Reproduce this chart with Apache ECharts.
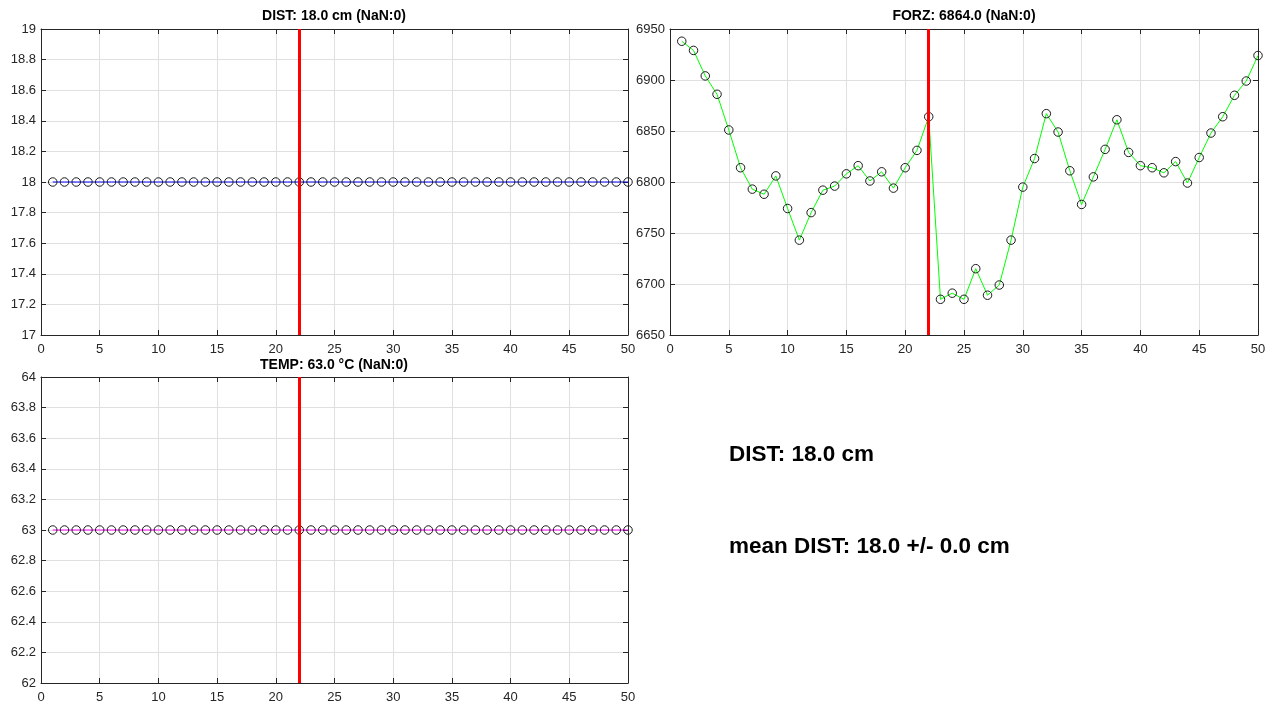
<!DOCTYPE html>
<html>
<head>
<meta charset="utf-8">
<title>DIST / FORZ / TEMP</title>
<script src="https://cdn.jsdelivr.net/npm/echarts@6/dist/echarts.min.js"></script>
<style>
  html, body { margin: 0; padding: 0; background: #ffffff; }
  #chart { width: 1272px; height: 707px; }
</style>
</head>
<body>
<div id="chart"></div>
<script>
// Sample index (x) for the last 50 acquisitions
const sampleIndex = [1,2,3,4,5,6,7,8,9,10,11,12,13,14,15,16,17,18,19,20,21,22,23,24,25,
  26,27,28,29,30,31,32,33,34,35,36,37,38,39,40,41,42,43,44,45,46,47,48,49,50];

// Distance readings (cm)
const distValues = [18,18,18,18,18,18,18,18,18,18,18,18,18,18,18,18,18,18,18,18,18,18,18,18,18,
  18,18,18,18,18,18,18,18,18,18,18,18,18,18,18,18,18,18,18,18,18,18,18,18,18];

// Force readings
const forzValues = [6938,6929,6904,6886,6851,6814,6793,6788,6806,6774,6743,6770,6792,6796,6808,
  6816,6801,6810,6794,6814,6831,6864,6685,6691,6685,6715,6689,6699,6743,6795,6823,6867,6849,
  6811,6778,6805,6832,6861,6829,6816,6814,6809,6820,6799,6824,6848,6864,6885,6899,6924];

// Temperature readings (°C)
const tempValues = [63,63,63,63,63,63,63,63,63,63,63,63,63,63,63,63,63,63,63,63,63,63,63,63,63,
  63,63,63,63,63,63,63,63,63,63,63,63,63,63,63,63,63,63,63,63,63,63,63,63,63];

// Currently selected sample (red cursor)
const currentIndex = 22;

// Axis ranges and tick steps
const xRange = { min: 0, max: 50, step: 5 };
const distRange = { min: 17, max: 19, step: 0.2 };
const forzRange = { min: 6650, max: 6950, step: 50 };
const tempRange = { min: 62, max: 64, step: 0.2 };

// Text shown in titles and the summary panel
const titles = ['DIST: 18.0 cm (NaN:0)', 'FORZ: 6864.0 (NaN:0)', 'TEMP: 63.0 °C (NaN:0)'];
const summaryLines = ['DIST: 18.0 cm', 'mean DIST: 18.0 +/- 0.0 cm'];

const FONT = '"Liberation Sans", Arial, Helvetica, sans-serif';
const AX = '#262626';
const GRIDC = '#e0e0e0';

const grids = [
  { left: 41, top: 29, width: 587, height: 306 },
  { left: 670, top: 29, width: 588, height: 306 },
  { left: 41, top: 377, width: 587, height: 306 }
];

const fmt = v => String(Math.round(v * 10) / 10);

function mainX(gi) {
  return {
    type: 'value', gridIndex: gi, position: 'bottom',
    min: xRange.min, max: xRange.max, interval: xRange.step,
    axisLine: { onZero: false, lineStyle: { color: AX, width: 1 } },
    axisTick: { inside: true, length: 5, lineStyle: { color: AX } },
    axisLabel: { color: AX, fontFamily: FONT, fontSize: 13, margin: 8, formatter: fmt },
    splitLine: { show: true, lineStyle: { color: GRIDC, width: 1 } }
  };
}
function boxX(gi) {
  return {
    type: 'value', gridIndex: gi, position: 'top',
    min: xRange.min, max: xRange.max, interval: xRange.step,
    axisLine: { onZero: false, lineStyle: { color: AX, width: 1 } },
    axisTick: { inside: true, length: 5, lineStyle: { color: AX } },
    axisLabel: { show: false }, splitLine: { show: false }
  };
}
function mainY(gi, r) {
  return {
    type: 'value', gridIndex: gi, position: 'left',
    min: r.min, max: r.max, interval: r.step,
    axisLine: { show: true, onZero: false, lineStyle: { color: AX, width: 1 } },
    axisTick: { show: true, inside: true, length: 5, lineStyle: { color: AX } },
    axisLabel: { color: AX, fontFamily: FONT, fontSize: 13, margin: 5, formatter: fmt },
    splitLine: { show: true, lineStyle: { color: GRIDC, width: 1 } }
  };
}
function boxY(gi, r) {
  return {
    type: 'value', gridIndex: gi, position: 'right',
    min: r.min, max: r.max, interval: r.step,
    axisLine: { show: true, onZero: false, lineStyle: { color: AX, width: 1 } },
    axisTick: { show: true, inside: true, length: 5, lineStyle: { color: AX } },
    axisLabel: { show: false }, splitLine: { show: false }
  };
}

function seriesFor(gi, values, lineColor) {
  return {
    type: 'line', xAxisIndex: gi * 2, yAxisIndex: gi * 2,
    data: sampleIndex.map((x, i) => [x, values[i]]),
    symbol: 'circle', symbolSize: 8.5,
    itemStyle: { color: 'rgba(0,0,0,0)', borderColor: '#1a1a1a', borderWidth: 1 },
    lineStyle: { color: lineColor, width: 1 },
    emphasis: { disabled: true },
    silent: true,
    z: 3,
    markLine: {
      silent: true, symbol: 'none', animation: false,
      label: { show: false },
      lineStyle: { color: '#ff0000', width: 3, type: 'solid' },
      data: [{ xAxis: currentIndex }],
      z: 4
    }
  };
}

const chart = echarts.init(document.getElementById('chart'), null, { renderer: 'canvas' });

const titleStyle = { color: '#000000', fontFamily: FONT, fontSize: 14, fontWeight: 'bold' };
const summaryStyle = { color: '#000000', fontFamily: FONT, fontSize: 22.5, fontWeight: 'bold' };

chart.setOption({
  animation: false,
  backgroundColor: '#ffffff',
  title: [
    { text: titles[0], left: 334, top: 9, textAlign: 'center', textStyle: titleStyle, padding: 0 },
    { text: titles[1], left: 964, top: 9, textAlign: 'center', textStyle: titleStyle, padding: 0 },
    { text: titles[2], left: 334, top: 358, textAlign: 'center', textStyle: titleStyle, padding: 0 },
    { text: summaryLines[0], left: 729, top: 443, textStyle: summaryStyle, padding: 0 },
    { text: summaryLines[1], left: 729, top: 535, textStyle: summaryStyle, padding: 0 }
  ],
  grid: grids,
  xAxis: [mainX(0), boxX(0), mainX(1), boxX(1), mainX(2), boxX(2)],
  yAxis: [
    mainY(0, distRange), boxY(0, distRange),
    mainY(1, forzRange), boxY(1, forzRange),
    mainY(2, tempRange), boxY(2, tempRange)
  ],
  series: [
    seriesFor(0, distValues, '#0000ff'),
    seriesFor(1, forzValues, '#00ff00'),
    seriesFor(2, tempValues, '#ff00ff')
  ]
});
</script>
</body>
</html>
